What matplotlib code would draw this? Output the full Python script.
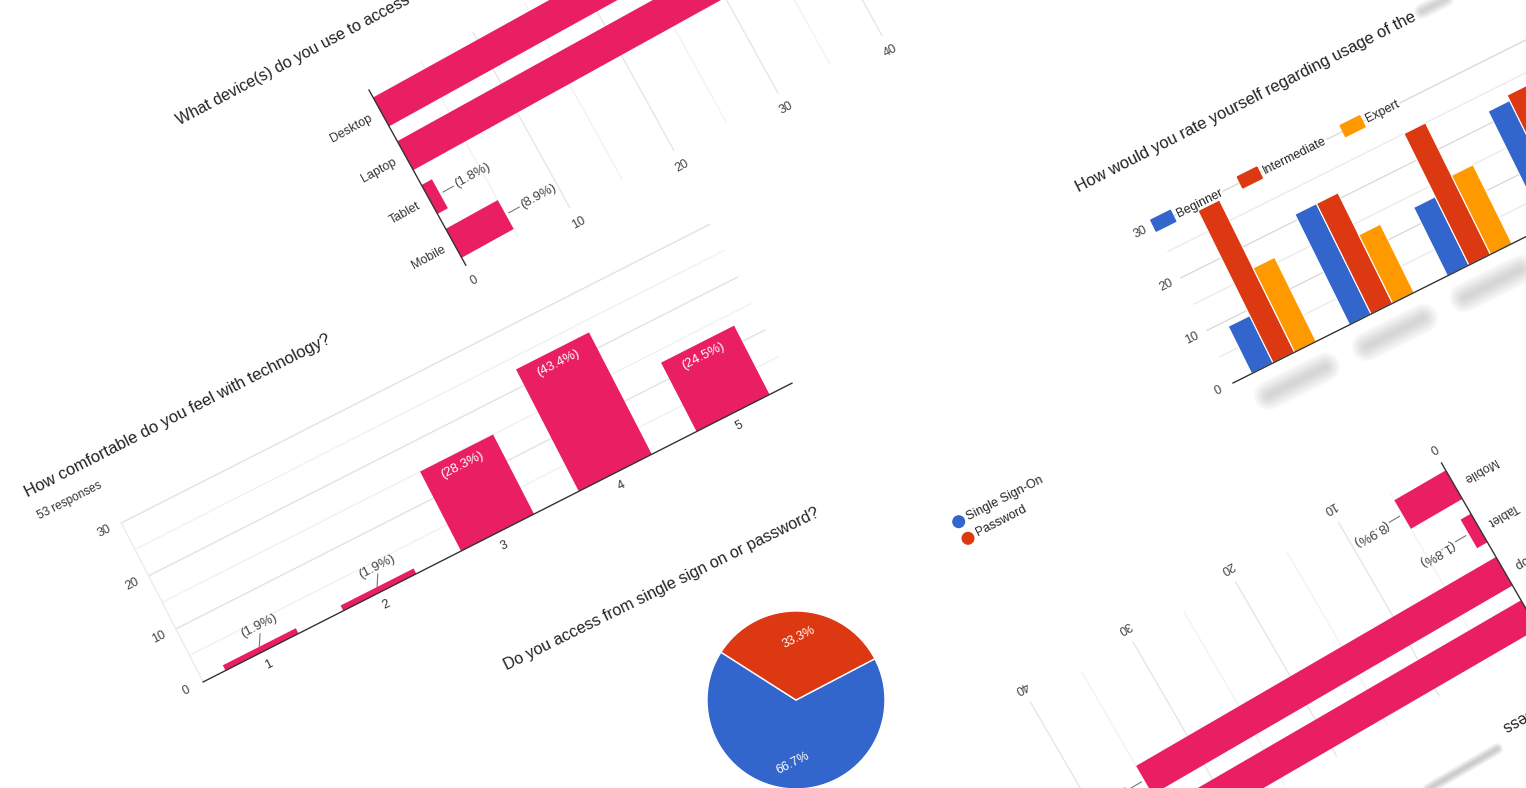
import numpy as np
import matplotlib
matplotlib.use("Agg")
import matplotlib.pyplot as plt
from matplotlib.transforms import Affine2D
from matplotlib.patches import Rectangle

plt.rcParams['font.family'] = ['Liberation Sans', 'DejaVu Sans']

###       DATA        ###
comfort_levels = ['1', '2', '3', '4', '5']
comfort_counts = [1, 1, 15, 23, 13]
comfort_labels = ['(1.9%)', '(1.9%)', '(28.3%)', '(43.4%)', '(24.5%)']
comfort_ticks = [0, 10, 20, 30]

device_names = ['Desktop', 'Laptop', 'Tablet', 'Mobile']
device_counts = [38, 35, 1, 5]
device_labels = ['(67.9%)', '(62.5%)', '(1.8%)', '(8.9%)']
device_ticks = [0, 10, 20, 30, 40]

skill_names = ['Beginner', 'Intermediate', 'Expert']
skill_beginner = [9, 21, 13, 22]
skill_intermediate = [30, 21, 25, 23]
skill_expert = [16, 13, 15, 9]
skill_ticks = [0, 10, 20, 30]

login_names = ['Single Sign-On', 'Password']
login_share = [66.7, 33.3]
###                   ###

PINK = '#e91e63'
BLUE = '#3366cc'
RED = '#dc3912'
ORANGE = '#ff9900'
INK = '#202124'

W, H = 1526, 788
fig = plt.figure(figsize=(W / 100, H / 100), dpi=100, facecolor='white')
ax = fig.add_axes([0, 0, 1, 1])
ax.set_autoscale_on(False)
ax.set_xlim(0, W)
ax.set_ylim(H, 0)
ax.axis('off')


def frame(origin, xvec, yvec):
    # tilted chart plane -> pixel position on the photo
    return Affine2D(np.array([[xvec[0], yvec[0], origin[0]],
                              [xvec[1], yvec[1], origin[1]],
                              [0, 0, 1]]))


def put(aff, x, y, s, rot, **kw):
    px, py = aff.transform((x, y))
    kw.setdefault('rotation_mode', 'anchor')
    ax.text(px, py, s, rotation=rot, **kw)


def smudge(aff, x0, x1, y, width, alpha=0.035):
    # privacy blur over hidden text
    for k in np.linspace(1.0, 0.15, 9):
        ax.plot([x0, x1], [y, y], transform=aff + ax.transData, color='#808080',
                lw=width * k * 0.72, alpha=alpha, solid_capstyle='round')


###   How comfortable (column chart)   ###
A = frame((144.3, 711.8), (117.75, -59.75), (-2.73, -5.3))
tA = A + ax.transData
rA = 27
for v in range(5, 35, 5):
    ax.plot([0.5, 5.5], [v, v], color='#e2e2e2' if v % 10 == 0 else '#f1f1f1', lw=1, transform=tA)
ax.plot([0.5, 0.5], [0, 30], color='#ececec', lw=1, transform=tA)
xs = np.arange(1, len(comfort_counts) + 1)
ax.bar(xs, comfort_counts, width=0.62, color=PINK, transform=tA, zorder=2)
ax.plot([0.5, 5.5], [0, 0], color='#333333', lw=1, transform=tA, zorder=3)
for v in comfort_ticks:
    put(A, 0.36, v, str(v), rA, ha='center', va='center', fontsize=9, color='#444444')
for x, lab in zip(xs, comfort_levels):
    put(A, x, -2.4, lab, rA, ha='center', va='center', fontsize=9, color='#333333')
for x, c, lab in zip(xs, comfort_counts, comfort_labels):
    if c < 5:
        ax.plot([x, x + 0.05], [c, c + 1.9], color='#777777', lw=0.8, transform=tA)
        put(A, x + 0.07, c + 2.1, lab, rA, ha='center', va='bottom', fontsize=9.5, color='#444444')
    else:
        put(A, x, c - 1.2, lab, rA, ha='center', va='top', fontsize=9.5, color='white')
ax.text(28, 497, 'How comfortable do you feel with technology?', rotation=27,
        rotation_mode='anchor', ha='left', va='baseline', fontsize=12, color=INK)
ax.text(40, 519, '53 responses', rotation=27, rotation_mode='anchor',
        ha='left', va='baseline', fontsize=8.5, color='#333333')


###   What device(s) (bar chart, twice)   ###
def device_chart(aff, rot):
    t = aff + ax.transData
    for v in range(5, 45, 5):
        ax.plot([v, v], [0, 4], color='#e6e6e6' if v % 10 == 0 else '#f3f3f3', lw=1, transform=t)
    ys = np.arange(len(device_names)) + 0.5
    ax.barh(ys, device_counts, height=0.66, color=PINK, transform=t, zorder=2)
    ax.plot([0, 0], [0, 4], color='#333333', lw=1, transform=t, zorder=3)
    for v in device_ticks:
        put(aff, v, 4.35, str(v), rot, ha='center', va='center', fontsize=9, color='#444444')
    for y, name in zip(ys, device_names):
        put(aff, -0.9, y, name, rot, ha='right', va='center', fontsize=9, color='#333333')
    for y, c, lab in zip(ys, device_counts, device_labels):
        ax.plot([c + 0.3, c + 1.3], [y, y], color='#777777', lw=0.8, transform=t)
        put(aff, c + 1.5, y, lab, rot, ha='left', va='center', fontsize=9.5, color='#444444')
    put(aff, -15.4, -1.21, 'What device(s) do you use to access', rot - 1,
        ha='left', va='baseline', fontsize=11.5, color=INK)
    smudge(aff, 8.0, 17.4, -1.5, 12, 0.05)


B = frame((369, 90), (10.4, -5.75), (24.2, 43.8))
device_chart(B, 28.9)
D = frame((1541.9, 636.2), (-10.28, 5.97), (-25.1, -43.3))
device_chart(D, 210.1)


###   How would you rate yourself (grouped columns)   ###
C = frame((1233, 383), (97.9, -48.9), (-2.6, -5.26))
tC = C + ax.transData
rC = 26.5
for v in range(5, 35, 5):
    ax.plot([0, 4.6], [v, v], color='#dadada' if v % 10 == 0 else '#ebebeb', lw=1, transform=tC)
groups = np.arange(len(skill_beginner)) + 0.52
bw = 0.22
for off, vals, col in zip([-bw, 0, bw], [skill_beginner, skill_intermediate, skill_expert],
                          [BLUE, RED, ORANGE]):
    ax.bar(groups + off, vals, width=bw, color=col, edgecolor='white', linewidth=0.8,
           transform=tC, zorder=2)
ax.plot([0, 4.6], [0, 0], color='#333333', lw=1, transform=tC, zorder=3)
for v in skill_ticks:
    put(C, -0.15, v, str(v), rC, ha='center', va='center', fontsize=9, color='#444444')
for g in groups:
    smudge(C, g - 0.28, g + 0.3, -4.6, 30, 0.04)
for x0, name, col in zip([0.086, 0.97, 2.02], skill_names, [BLUE, RED, ORANGE]):
    ax.add_patch(Rectangle((x0 - 0.1, 29), 0.2, 2.1, color=col, transform=tC, zorder=4))
    put(C, x0 + 0.14, 30, name, rC, ha='left', va='center', fontsize=9, color='#222222',
        zorder=4, bbox=dict(fc='white', ec='none', pad=0.5))
put(C, -0.49, 40.9, 'How would you rate yourself regarding usage of the', 27,
    ha='left', va='baseline', fontsize=11.9, color=INK)
smudge(C, 3.05, 3.8, 42.3, 16, 0.045)


###   Single sign on or password (pie)   ###
ax.text(506.7, 670, 'Do you access from single sign on or password?', rotation=26.2,
        rotation_mode='anchor', ha='left', va='baseline', fontsize=11.7, color=INK)
cx, cy, rad = 796, 700, 89
half = rad * 1.25
pax = fig.add_axes([(cx - half) / W, (H - cy - half) / H, 2 * half / W, 2 * half / H])
wedges, _, autotexts = pax.pie(login_share, colors=[BLUE, RED], startangle=147.5,
                               counterclock=True, autopct='%.1f%%', pctdistance=0.71,
                               wedgeprops=dict(edgecolor='white', linewidth=1),
                               textprops=dict(color='white', fontsize=9))
for t in autotexts:
    t.set_rotation(27)
pax.set_xlim(-1.25, 1.25)
pax.set_ylim(-1.25, 1.25)

L = frame((958.7, 521.7), (0.891, -0.454), (9.3, 16.6))
ax.scatter([0, 0], [0, 1], s=70, c=[BLUE, RED], transform=L + ax.transData, zorder=3)
for i, name in enumerate(login_names):
    put(L, 10, i, name, 27, ha='left', va='center', fontsize=9, color='#222222')

ax.set_xlim(0, W)
ax.set_ylim(H, 0)
fig.savefig('out.png', dpi=100, facecolor='white')
